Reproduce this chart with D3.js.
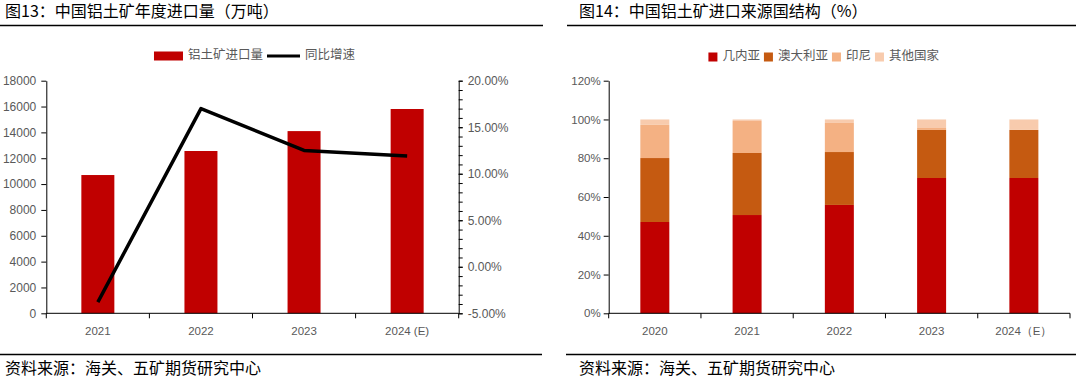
<!DOCTYPE html>
<html>
<head>
<meta charset="utf-8">
<title>铝土矿进口</title>
<script src="https://cdn.jsdelivr.net/npm/d3@7"></script>
<style>
  body { margin: 0; background: #fff; }
  svg { display: block; }
  .title { font-family: "Noto Sans CJK SC", sans-serif; font-size: 16px; fill: #000; }
  .source { font-family: "Noto Sans CJK SC", sans-serif; font-size: 16px; fill: #000; }
  .legend text { font-family: "Noto Sans CJK SC", sans-serif; font-size: 12.5px; fill: #595959; }
  .axis text { font-family: "Liberation Sans", Arial, sans-serif; fill: #595959; }
  .axis path, .axis line { stroke: #000; }
</style>
</head>
<body>
<div id="chart"></div>
<script>
// 图13 data
var years1 = ["2021", "2022", "2023", "2024 (E)"];
var importVol = [10700, 12560, 14100, 15810];      // 万吨
var yoyGrowth = [-3.8, 17.0, 12.5, 11.9];          // %
var volTicks = [0, 2000, 4000, 6000, 8000, 10000, 12000, 14000, 16000, 18000];
var growthTicks = [-5, 0, 5, 10, 15, 20];

// 图14 data (%)
var years2 = ["2020", "2021", "2022", "2023", "2024（E）"];
var guinea = [47.1, 50.7, 55.9, 69.8, 69.8];
var australia = [33.0, 32.0, 27.3, 24.8, 24.8];
var indonesia = [17.1, 16.5, 15.0, 1.0, 0];
var others = [2.8, 0.8, 1.8, 4.4, 5.4];
var shareTicks = [0, 20, 40, 60, 80, 100, 120];
var countries = ["几内亚", "澳大利亚", "印尼", "其他国家"];
var colors = ["#C00000", "#C55A11", "#F4B183", "#F8CBAD"];

var svg = d3.select("#chart").append("svg")
  .attr("width", 1076)
  .attr("height", 381);

// titles and rules
svg.append("text").attr("class", "title").attr("x", 5).attr("y", 13)
  .attr("dominant-baseline", "middle").text("图13：中国铝土矿年度进口量（万吨）");
svg.append("text").attr("class", "title").attr("x", 579).attr("y", 13)
  .attr("dominant-baseline", "middle").text("图14：中国铝土矿进口来源国结构（%）");
[[0, 543, 25.5], [567, 1076, 25.5], [0, 542, 354.5], [566, 1076, 354.5]].forEach(function(l) {
  svg.append("line").attr("x1", l[0]).attr("x2", l[1]).attr("y1", l[2]).attr("y2", l[2])
    .attr("stroke", "#000").attr("stroke-width", 1.3);
});
svg.append("text").attr("class", "source").attr("x", 5).attr("y", 370)
  .attr("dominant-baseline", "middle").text("资料来源：海关、五矿期货研究中心");
svg.append("text").attr("class", "source").attr("x", 579).attr("y", 370)
  .attr("dominant-baseline", "middle").text("资料来源：海关、五矿期货研究中心");

// ---------- left chart ----------
var plotTop = 80.7, plotBottom = 313.3;
var x1 = d3.scaleBand().domain(years1).range([46.3, 458.7]);
var yV = d3.scaleLinear().domain([0, 18000]).range([plotBottom, plotTop]);
var yG = d3.scaleLinear().domain([-5, 20]).range([plotBottom, plotTop]);
var bw1 = 33;

svg.append("g").selectAll("rect")
  .data(importVol)
  .enter().append("rect")
  .attr("x", function(d, i) { return x1(years1[i]) + (x1.bandwidth() - bw1) / 2; })
  .attr("y", function(d) { return yV(d); })
  .attr("width", bw1)
  .attr("height", function(d) { return plotBottom - yV(d); })
  .attr("fill", "#C00000");

var line = d3.line()
  .x(function(d, i) { return x1(years1[i]) + x1.bandwidth() / 2; })
  .y(function(d) { return yG(d); });
svg.append("path").datum(yoyGrowth)
  .attr("d", line)
  .attr("fill", "none")
  .attr("stroke", "#000")
  .attr("stroke-width", 3.5)
  .attr("stroke-linejoin", "round");

var axL = svg.append("g").attr("class", "axis").attr("transform", "translate(46.3,0)")
  .call(d3.axisLeft(yV).tickValues(volTicks).tickSize(5).tickPadding(5).tickSizeOuter(0)
    .tickFormat(d3.format("d")));
axL.selectAll("text").style("font-size", "12px");

var axR = svg.append("g").attr("class", "axis").attr("transform", "translate(458.7,0)")
  .call(d3.axisRight(yG).tickValues(growthTicks).tickSize(4).tickPadding(5).tickSizeOuter(0)
    .tickFormat(function(d) { return d.toFixed(2) + "%"; }));
axR.selectAll("text").style("font-size", "12px");
svg.append("g").attr("class", "axis").attr("transform", "translate(458.7,0)")
  .call(d3.axisRight(yG).tickValues(d3.range(-5, 21, 1)).tickSize(4).tickFormat(""))
  .select(".domain").remove();

// x axis left: ticks at band edges
var gX1 = svg.append("g").attr("class", "axis");
gX1.append("line").attr("x1", 46.3).attr("x2", 458.7).attr("y1", plotBottom).attr("y2", plotBottom).attr("stroke", "#000");
gX1.selectAll(".edge").data(years1.concat(["end"]))
  .enter().append("line")
  .attr("x1", function(d, i) { return 46.3 + i * x1.bandwidth(); })
  .attr("x2", function(d, i) { return 46.3 + i * x1.bandwidth(); })
  .attr("y1", plotBottom).attr("y2", plotBottom + 5).attr("stroke", "#000");
gX1.selectAll(".lab").data(years1)
  .enter().append("text")
  .attr("x", function(d) { return x1(d) + x1.bandwidth() / 2; })
  .attr("y", 332)
  .attr("text-anchor", "middle")
  .attr("dominant-baseline", "middle")
  .style("font-size", "11.5px")
  .text(function(d) { return d; });

// legend helper
function legend(cx, y, items) {
  var g = svg.append("g").attr("class", "legend");
  var xPos = 0;
  items.forEach(function(it) {
    if (it.type === "rect") {
      g.append("rect").attr("x", xPos).attr("y", y - it.h / 2).attr("width", it.w).attr("height", it.h)
        .attr("fill", it.color);
    } else {
      g.append("line").attr("x1", xPos).attr("x2", xPos + it.w).attr("y1", y).attr("y2", y)
        .attr("stroke", it.color).attr("stroke-width", 3);
    }
    xPos += it.w + 5;
    var t = g.append("text").attr("x", xPos).attr("y", y).attr("dominant-baseline", "middle").text(it.label);
    xPos += t.node().getComputedTextLength() + 4;
  });
  g.attr("transform", "translate(" + (cx - (xPos - 4) / 2) + ",0)");
}
legend(254.5, 56, [
  { type: "rect", w: 29, h: 9, color: "#C00000", label: "铝土矿进口量" },
  { type: "line", w: 33, color: "#000", label: "同比增速" }
]);

// ---------- right chart ----------
var x2 = d3.scaleBand().domain(years2).range([608.7, 1070]);
var yS = d3.scaleLinear().domain([0, 120]).range([plotBottom, plotTop]);
var bw2 = 29;

var rows = years2.map(function(y, i) {
  return { year: y, "几内亚": guinea[i], "澳大利亚": australia[i], "印尼": indonesia[i], "其他国家": others[i] };
});
var series = d3.stack().keys(countries)(rows);

svg.append("g").selectAll("g")
  .data(series)
  .enter().append("g")
  .attr("fill", function(d, i) { return colors[i]; })
  .selectAll("rect")
  .data(function(d) { return d; })
  .enter().append("rect")
  .attr("x", function(d) { return x2(d.data.year) + (x2.bandwidth() - bw2) / 2; })
  .attr("y", function(d) { return yS(d[1]); })
  .attr("width", bw2)
  .attr("height", function(d) { return yS(d[0]) - yS(d[1]); });

var axS = svg.append("g").attr("class", "axis").attr("transform", "translate(608.7,0)")
  .call(d3.axisLeft(yS).tickValues(shareTicks).tickSize(5).tickPadding(3).tickSizeOuter(0)
    .tickFormat(function(d) { return d + "%"; }));
axS.selectAll("text").style("font-size", "11.5px");

var gX2 = svg.append("g").attr("class", "axis");
gX2.append("line").attr("x1", 608.7).attr("x2", 1070).attr("y1", plotBottom).attr("y2", plotBottom).attr("stroke", "#000");
gX2.selectAll(".edge").data(years2.concat(["end"]))
  .enter().append("line")
  .attr("x1", function(d, i) { return 608.7 + i * x2.bandwidth(); })
  .attr("x2", function(d, i) { return 608.7 + i * x2.bandwidth(); })
  .attr("y1", plotBottom).attr("y2", plotBottom + 5).attr("stroke", "#000");
gX2.selectAll(".lab").data(years2)
  .enter().append("text")
  .attr("x", function(d) { return x2(d) + x2.bandwidth() / 2; })
  .attr("y", 332)
  .attr("text-anchor", "middle")
  .attr("dominant-baseline", "middle")
  .style("font-size", "11.5px")
  .text(function(d) { return d; });

legend(823.7, 57, countries.map(function(c, i) {
  return { type: "rect", w: 9, h: 9, color: colors[i], label: c };
}));
</script>
</body>
</html>
